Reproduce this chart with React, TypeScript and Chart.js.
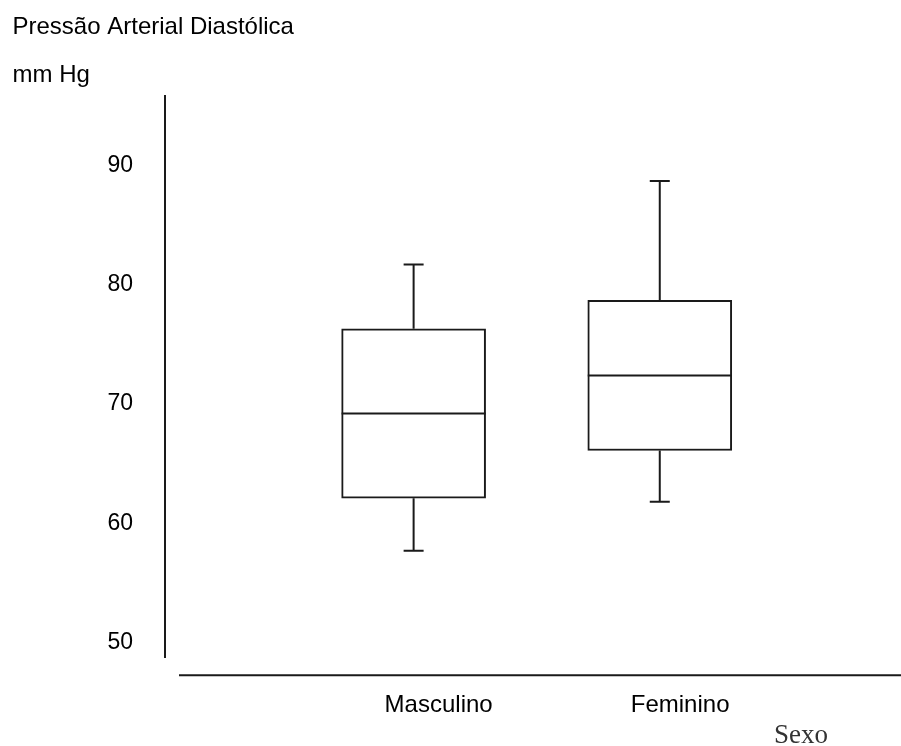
import React, { useEffect, useRef } from 'react';
import { Chart, registerables } from 'chart.js';

Chart.register(...registerables);

// ---- data ----
const categories = ['Masculino', 'Feminino'];
const positions = [1, 2];
const whiskerLow = [57.7, 61.8];
const quartile1 = [62.1, 66.1];
const medians = [69.2, 72.4];
const quartile3 = [76.3, 78.7];
const whiskerHigh = [81.7, 88.7];
const yTicks = [50, 60, 70, 80, 90];

const titleLine1 = 'Pressão Arterial Diastólica';
const titleLine2 = 'mm Hg';
const xTitle = 'Sexo';

const LINE = '#1a1a1a';
const SANS = '"Liberation Sans", Arial, sans-serif';
const SERIF = '"Liberation Serif", "Times New Roman", serif';

const boxPlugin = {
  id: 'boxWhiskers',
  afterDatasetsDraw(chart: any) {
    const meta = chart.getDatasetMeta(0);
    const y = chart.scales.y;
    const ctx = chart.ctx;
    ctx.save();
    ctx.strokeStyle = LINE;
    ctx.lineWidth = 2;
    meta.data.forEach((bar: any, i: number) => {
      const { x, width } = bar.getProps(['x', 'width'], true);
      const half = width / 2;
      const cap = 10;
      const pMed = y.getPixelForValue(medians[i]);
      const pQ1 = y.getPixelForValue(quartile1[i]);
      const pQ3 = y.getPixelForValue(quartile3[i]);
      const pLo = y.getPixelForValue(whiskerLow[i]);
      const pHi = y.getPixelForValue(whiskerHigh[i]);
      ctx.beginPath();
      // median
      ctx.moveTo(x - half, pMed);
      ctx.lineTo(x + half, pMed);
      // upper whisker
      ctx.moveTo(x, pQ3);
      ctx.lineTo(x, pHi);
      ctx.moveTo(x - cap, pHi);
      ctx.lineTo(x + cap, pHi);
      // lower whisker
      ctx.moveTo(x, pQ1);
      ctx.lineTo(x, pLo);
      ctx.moveTo(x - cap, pLo);
      ctx.lineTo(x + cap, pLo);
      ctx.stroke();
    });
    ctx.restore();
  },
};

const decorPlugin = {
  id: 'decor',
  afterDraw(chart: any) {
    const ctx = chart.ctx;
    const area = chart.chartArea;
    ctx.save();
    // separate x-axis line
    ctx.strokeStyle = LINE;
    ctx.lineWidth = 2;
    ctx.beginPath();
    const yLine = area.bottom + 17.5;
    ctx.moveTo(area.left + 14, yLine);
    ctx.lineTo(chart.width, yLine);
    ctx.stroke();
    // titles
    ctx.fillStyle = '#000';
    ctx.textAlign = 'left';
    ctx.textBaseline = 'alphabetic';
    ctx.font = `24px ${SANS}`;
    ctx.fillText(titleLine1, 12.5, 33.5);
    ctx.fillText(titleLine2, 12.5, 81.5);
    ctx.fillStyle = '#333';
    ctx.font = `27px ${SERIF}`;
    ctx.fillText(xTitle, 774, 743);
    ctx.restore();
  },
};

export default function App() {
  const ref = useRef<HTMLCanvasElement | null>(null);

  useEffect(() => {
    if (!ref.current) return;
    const chart = new Chart(ref.current, {
      type: 'bar',
      data: {
        datasets: [
          {
            label: 'Pressão Arterial Diastólica',
            data: positions.map((p, i) => ({ x: p, y: [quartile1[i], quartile3[i]] })) as any,
            backgroundColor: '#ffffff',
            borderColor: LINE,
            borderWidth: 2,
            borderSkipped: false,
            barThickness: 144,
          },
        ],
      },
      options: {
        responsive: false,
        animation: false,
        layout: { padding: { left: 0, right: 0, top: 95.7, bottom: 0 } },
        plugins: {
          legend: { display: false },
          tooltip: { enabled: false },
          title: { display: false },
        },
        scales: {
          x: {
            type: 'linear',
            offset: false,
            min: -0.01,
            max: 2.98,
            grid: { display: false, drawTicks: false, offset: false },
            border: { display: false },
            afterBuildTicks: (scale: any) => {
              scale.ticks = positions.map((v) => ({ value: v }));
            },
            afterFit: (scale: any) => {
              scale.height = 88.3;
            },
            ticks: {
              align: 'start',
              labelOffset: -29,
              padding: 33,
              autoSkip: false,
              maxRotation: 0,
              color: '#000',
              font: { family: SANS, size: 24 },
              callback: (value: any) => {
                const idx = positions.indexOf(Number(value));
                return idx >= 0 ? categories[idx] : '';
              },
            },
          },
          y: {
            type: 'linear',
            min: 48.73,
            max: 95.85,
            grid: { display: false, drawTicks: false },
            border: { display: true, color: LINE, width: 2 },
            afterBuildTicks: (scale: any) => {
              scale.ticks = yTicks.map((v) => ({ value: v }));
            },
            afterFit: (scale: any) => {
              scale.width = 165;
            },
            ticks: {
              padding: 32,
              color: '#000',
              font: { family: SANS, size: 23 },
              callback: (value: any) => String(value),
            },
          },
        },
      },
      plugins: [boxPlugin, decorPlugin],
    } as any);
    return () => chart.destroy();
  }, []);

  return (
    <div style={{ position: 'fixed', left: 0, top: 0, width: 901, height: 746, background: '#fff' }}>
      <canvas ref={ref} width={901} height={746} style={{ display: 'block' }} />
    </div>
  );
}
